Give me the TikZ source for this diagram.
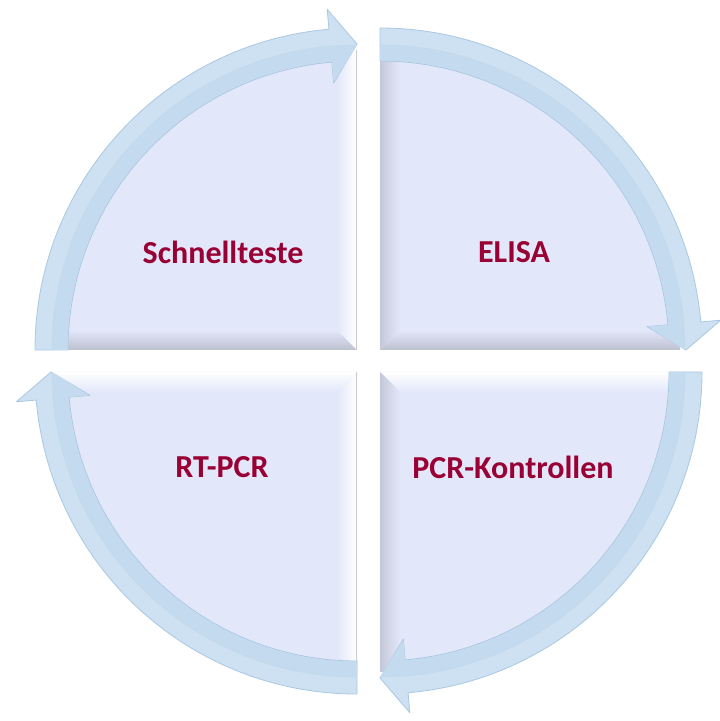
\documentclass[tikz,border=0pt]{standalone}
\usepackage{fontspec}
\setmainfont{Carlito}
\definecolor{lav}{HTML}{E3E7FA}
\definecolor{bevdark}{HTML}{BCC0CF}
\definecolor{bandfill}{HTML}{CDE1F2}
\definecolor{bandinner}{HTML}{C4DAEE}
\definecolor{bandedge}{HTML}{A9C8E1}
\definecolor{txtred}{HTML}{990033}
\tikzset{
  quadlabel/.style={text=txtred, font=\fontsize{32}{37}\selectfont\bfseries, anchor=base, inner sep=0pt},
  bandshape/.style={fill=bandfill, draw=bandedge, line width=0.8pt, line join=round},
}
\begin{document}
\begin{tikzpicture}[x=1pt,y=1pt]
\useasboundingbox (0,0) rectangle (720,721);
\fill[white] (0,0) rectangle (720,721);
% quadrant fills and bevels
\foreach \cx/\cy/\a in {357/371/180, 380/371/90, 380/349/0, 357/349/-90}{
  \pgfmathsetmacro\e{\a-90}
  \fill[lav] (\cx,\cy) -- ++(\a:300) arc[start angle=\a, end angle=\e, radius=300] -- cycle;
}
% bevels TL
\begin{scope}
  \clip (357,371) -- ++(180:300) arc[start angle=180, end angle=90, radius=300] -- cycle;
  \shade[bottom color=bevdark, top color=lav] (40,371) -- (357,371) -- (337,391) -- (40,391) -- cycle;
  \shade[right color=white, left color=lav] (357,371) -- (357,690) -- (337,690) -- (337,391) -- cycle;
  \draw[gray!40, line width=0.8pt] (356.6,371) -- (356.6,690);
\end{scope}
% bevels TR
\begin{scope}
  \clip (380,371) -- ++(90:300) arc[start angle=90, end angle=0, radius=300] -- cycle;
  \shade[bottom color=bevdark, top color=lav] (380,371) -- (700,371) -- (700,391) -- (400,391) -- cycle;
  \shade[left color=bevdark!80!lav, right color=lav] (380,371) -- (400,391) -- (400,690) -- (380,690) -- cycle;
\end{scope}
% bevels BR
\begin{scope}
  \clip (380,349) -- ++(0:300) arc[start angle=0, end angle=-90, radius=300] -- cycle;
  \shade[top color=white, bottom color=lav] (380,349) -- (700,349) -- (700,329) -- (400,329) -- cycle;
  \shade[left color=bevdark!80!lav, right color=lav] (380,349) -- (400,329) -- (400,30) -- (380,30) -- cycle;
\end{scope}
% bevels BL
\begin{scope}
  \clip (357,349) -- ++(-90:300) arc[start angle=-90, end angle=-180, radius=300] -- cycle;
  \shade[top color=white, bottom color=lav] (357,349) -- (40,349) -- (40,329) -- (337,329) -- cycle;
  \shade[right color=white, left color=lav] (357,349) -- (337,329) -- (337,30) -- (357,30) -- cycle;
  \draw[gray!40, line width=0.8pt] (356.6,349) -- (356.6,30);
\end{scope}
% circular arrows
\foreach \cx/\cy/\a in {357/371/180, 380/371/90, 380/349/0, 357/349/-90}{
  \pgfmathsetmacro\b{\a-85}
  \pgfmathsetmacro\e{\a-90}
  \begin{scope}[shift={(\cx,\cy)}]
    \path[bandshape] (\a:289) -- (\a:322) arc[start angle=\a, end angle=\b, radius=322]
      -- (\b:342) -- (\e:306) -- (\b:268) -- (\b:289)
      arc[start angle=\b, end angle=\a, radius=289] -- cycle;
    \fill[bandinner] (\a:289.6) -- (\a:305) arc[start angle=\a, end angle=\b, radius=305]
      -- (\e:305) -- (\b:268.8) -- (\b:289.6) arc[start angle=\b, end angle=\a, radius=289.6] -- cycle;
    \draw[bandedge!70, line width=0.6pt] (\a:305) arc[start angle=\a, end angle=\b, radius=305] -- (\e:305);
  \end{scope}
}
% labels
\node[quadlabel] (schnell) at (223,457) {Schnellteste};
\node[quadlabel] (elisa) at (514,458) {ELISA};
\node[quadlabel] (rtpcr) at (222,243) {RT-PCR};
\node[quadlabel] (pcrk) at (513,242) {PCR-Kontrollen};
\end{tikzpicture}
\end{document}
